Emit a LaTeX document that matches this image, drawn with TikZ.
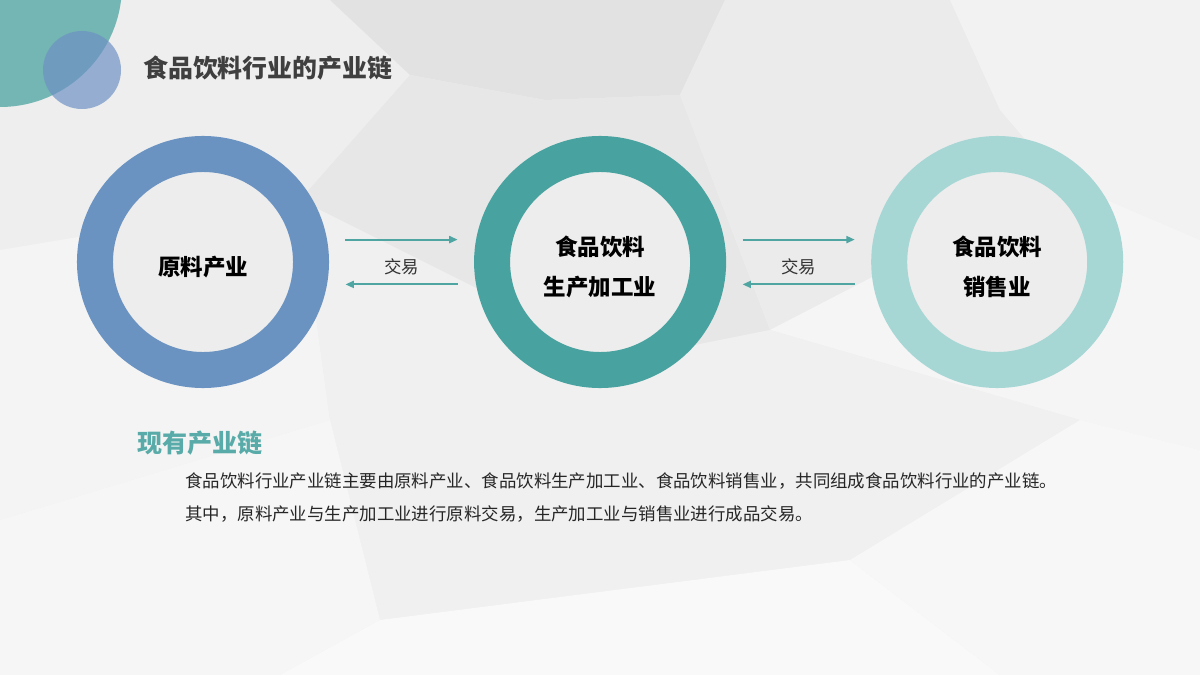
\documentclass[tikz,border=0pt]{standalone}
\usepackage{fontspec}
\setmainfont{Noto Sans CJK SC}
\usepackage{xcolor}
\usetikzlibrary{arrows.meta, positioning, calc}
\definecolor{rawcolor}{HTML}{6B93C2}
\definecolor{mfgcolor}{HTML}{48A3A0}
\definecolor{salecolor}{HTML}{A7D7D5}
\definecolor{corecolor}{HTML}{ECEDEC}
\definecolor{arrowcolor}{HTML}{4EA5A2}
\definecolor{headcolor}{HTML}{58ABA8}
\definecolor{titlecolor}{HTML}{3F3F3F}
\definecolor{decoteal}{HTML}{74B6B3}
\definecolor{decoblue}{HTML}{6E92C4}
\newcommand{\ringpad}{\rule{0pt}{21pt}}
\tikzstyle{ring} = [circle, line width=0.9cm, fill=corecolor, minimum size=5.4cm, inner sep=0pt, align=center, text=black, font=\bfseries\fontsize{16}{28.4}\selectfont]
\tikzstyle{arrow} = [draw=arrowcolor, line width=1.4pt, -{Triangle[length=6pt,width=5pt]}, shorten <=0.41cm, shorten >=0.41cm]
\tikzstyle{deal} = [text=black!80, font=\fontsize{12.4}{14}\selectfont]
\tikzstyle{title} = [text=titlecolor, inner xsep=0pt, font=\bfseries\fontsize{17.7}{20}\selectfont]
\tikzstyle{headline} = [text=headcolor, inner xsep=0pt, font=\bfseries\fontsize{17.8}{20}\selectfont]
\tikzstyle{bodytext} = [text=black!85, inner xsep=0pt, align=left, font=\fontsize{12.4}{23.5}\selectfont]

\begin{document}
\begin{tikzpicture}[x=0.025cm, y=-0.025cm, node distance=9.925cm]
    % Background
    \useasboundingbox (0,0) rectangle (1200,675);
    \fill[black!6.5] (0,0) rectangle (1200,675);
    \fill[black!11.5] (330,0) -- (725,0) -- (680,95) -- (545,100) -- (410,75) -- cycle;
    \fill[black!9.5] (410,75) -- (545,100) -- (680,95) -- (770,330) -- (620,360) -- (300,200) -- cycle;
    \fill[black!8] (725,0) -- (950,0) -- (1000,110) -- (1060,180) -- (770,330) -- (680,95) -- cycle;
    \fill[black!5] (950,0) -- (1200,0) -- (1200,240) -- (1060,180) -- (1000,110) -- cycle;
    \fill[black!4] (1060,180) -- (1200,240) -- (1200,450) -- (1080,420) -- (770,330) -- cycle;
    \fill[black!4.5] (0,250) -- (300,200) -- (330,420) -- (0,520) -- cycle;
    \fill[black!6] (300,200) -- (620,360) -- (770,330) -- (1080,420) -- (850,560) -- (380,620) -- (330,420) -- cycle;
    \fill[black!3.5] (0,520) -- (330,420) -- (380,620) -- (280,675) -- (0,675) -- cycle;
    \fill[black!2.5] (380,620) -- (850,560) -- (1000,675) -- (280,675) -- cycle;
    \fill[black!3] (850,560) -- (1080,420) -- (1200,450) -- (1200,675) -- (1000,675) -- cycle;

    % Corner decoration
    \fill[decoteal] (0,-15) circle[radius=122];
    \fill[decoblue, opacity=0.7] (82,70) circle[radius=39];

    % Title
    \node[title, anchor=west] (title) at (143,68) {食品饮料行业的产业链};

    % Chain
    \node[ring, draw=rawcolor] (raw) at (203,262) {\ringpad 原料产业};
    \node[ring, draw=mfgcolor, right of=raw] (mfg) {\ringpad 食品饮料\\生产加工业};
    \node[ring, draw=salecolor, right of=mfg] (sale) {\ringpad 食品饮料\\销售业};

    % Arrows
    \draw[arrow] ([yshift=0.56cm]raw.east) -- ([yshift=0.56cm]mfg.west);
    \draw[arrow] ([yshift=-0.56cm]mfg.west) -- ([yshift=-0.56cm]raw.east);
    \path (raw) -- node[deal, yshift=-0.12cm] (deal1) {交易} (mfg);
    \draw[arrow] ([yshift=0.56cm]mfg.east) -- ([yshift=0.56cm]sale.west);
    \draw[arrow] ([yshift=-0.56cm]sale.west) -- ([yshift=-0.56cm]mfg.east);
    \path (mfg) -- node[deal, yshift=-0.12cm] (deal2) {交易} (sale);

    % Text
    \node[headline, anchor=west] (head) at (137,443) {现有产业链};
    \node[bodytext, anchor=west] (body) at (185,497.5) {食品饮料行业产业链主要由原料产业、食品饮料生产加工业、食品饮料销售业，共同组成食品饮料行业的产业链。\\其中，原料产业与生产加工业进行原料交易，生产加工业与销售业进行成品交易。};
\end{tikzpicture}
\end{document}
